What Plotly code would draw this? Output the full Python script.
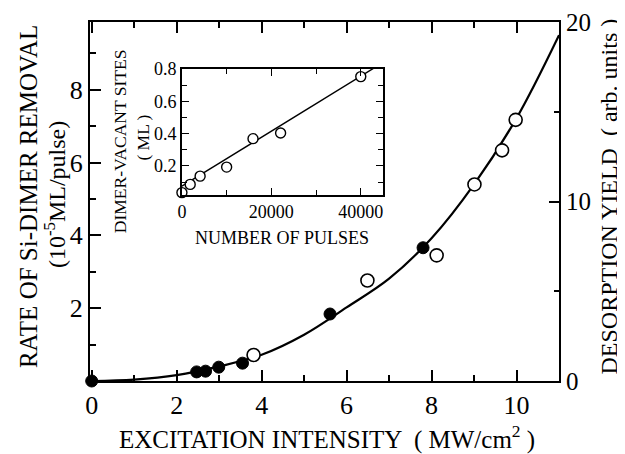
import plotly.graph_objects as go

# ---------------- data ----------------
# main panel: rate of Si-dimer removal (filled, left axis)
filled_x = [0.0, 2.47, 2.68, 2.99, 3.55, 5.61, 7.80]
filled_y = [0.0, 0.25, 0.27, 0.38, 0.49, 1.84, 3.66]

# main panel: desorption yield (open, right axis)
open_x = [3.81, 6.49, 8.12, 9.01, 9.66, 9.98]
open_y2 = [1.45, 5.6, 7.0, 10.95, 12.85, 14.55]

# fitted curve (left axis units)
curve_x = [0, 1, 2, 3, 4, 5, 6, 7, 8, 9, 10, 11]
curve_y = [0, 0.04, 0.16, 0.40, 0.72, 1.27, 2.02, 2.81, 3.92, 5.40, 7.22, 9.50]

# inset: dimer-vacant sites vs number of pulses
inset_x = [0, 1850, 4070, 10000, 15900, 22070, 40000]
inset_y = [0.035, 0.086, 0.137, 0.193, 0.369, 0.404, 0.753]
inset_line_x = [0, 45000]
inset_line_y = [0.075, 0.841]

x_ticks = [0, 2, 4, 6, 8, 10]
y_ticks = [2, 4, 6, 8]
y2_ticks = [0, 10, 20]
inset_x_ticks = [0, 20000, 40000]
inset_x_labels = ["0", "20000", "40000"]
inset_y_ticks = [0.2, 0.4, 0.6, 0.8]
inset_y_labels = ["0.2", "0.4", "0.6", "0.8"]

FONT = "Liberation Serif"
BLACK = "black"

fig = go.Figure()

fig.add_trace(go.Scatter(x=curve_x, y=curve_y, mode="lines",
                         line=dict(color=BLACK, width=2.2, shape="spline"),
                         xaxis="x", yaxis="y", showlegend=False, hoverinfo="skip"))
fig.add_trace(go.Scatter(x=filled_x, y=filled_y, mode="markers",
                         marker=dict(color=BLACK, size=12, line=dict(color=BLACK, width=1)),
                         xaxis="x", yaxis="y", showlegend=False, cliponaxis=False))
fig.add_trace(go.Scatter(x=open_x, y=open_y2, mode="markers",
                         marker=dict(color="white", size=13, line=dict(color=BLACK, width=1.6)),
                         xaxis="x", yaxis="y2", showlegend=False, cliponaxis=False))

fig.add_trace(go.Scatter(x=inset_line_x, y=inset_line_y, mode="lines",
                         line=dict(color=BLACK, width=1.4),
                         xaxis="x3", yaxis="y3", showlegend=False, hoverinfo="skip"))
fig.add_trace(go.Scatter(x=inset_x, y=inset_y, mode="markers",
                         marker=dict(color="white", size=10, line=dict(color=BLACK, width=1.4)),
                         xaxis="x3", yaxis="y3", showlegend=False, cliponaxis=False))

axis_common = dict(showgrid=False, zeroline=False, showline=True, linecolor=BLACK,
                   ticks="inside", tickcolor=BLACK, automargin=False)

# the page body adds an 8px offset, so the plot area is shifted up/left by 8px
PLOT_H = 359
fig.update_layout(
    template="none",
    width=625, height=454,
    margin=dict(l=82, r=74, t=14, b=81, pad=0),
    paper_bgcolor="white", plot_bgcolor="white",
    font=dict(family=FONT, color=BLACK),
    showlegend=False,
    xaxis=dict(**axis_common, domain=[0, 1], range=[-0.04, 11], linewidth=2,
               tickvals=x_ticks, ticklen=11, tickwidth=1.5, mirror="ticks",
               minor=dict(dtick=1, tick0=0, ticklen=6, ticks="inside", tickcolor=BLACK, tickwidth=1.5),
               tickfont=dict(size=26)),
    yaxis=dict(**axis_common, range=[0, 9.86], linewidth=2,
               tickvals=y_ticks, ticklen=11, tickwidth=1.5,
               minor=dict(dtick=1, tick0=0, ticklen=6, ticks="inside", tickcolor=BLACK, tickwidth=1.5),
               tickfont=dict(size=26)),
    yaxis2=dict(**axis_common, overlaying="y", side="right", anchor="x", range=[0, 20],
                linewidth=2, tickvals=y2_ticks, ticklen=10, tickwidth=1.5,
                minor=dict(dtick=5, tick0=0, ticklen=5, ticks="inside", tickcolor=BLACK, tickwidth=1.5),
                tickfont=dict(size=25)),
    xaxis3=dict(**axis_common, domain=[0.196, 0.625], anchor="y3", range=[0, 45000],
                linewidth=1.5, mirror="ticks", tickvals=inset_x_ticks, ticktext=inset_x_labels,
                ticklen=7, tickwidth=1.2,
                minor=dict(dtick=10000, tick0=0, ticklen=5, ticks="inside", tickcolor=BLACK, tickwidth=1.2),
                tickfont=dict(size=18)),
    yaxis3=dict(**axis_common, domain=[0.518, 0.869], anchor="x3", range=[0.02, 0.8],
                linewidth=1.5, mirror="ticks", tickvals=inset_y_ticks, ticktext=inset_y_labels,
                ticklen=7, tickwidth=1.2,
                minor=dict(dtick=0.1, tick0=0, ticklen=5, ticks="inside", tickcolor=BLACK, tickwidth=1.2),
                tickfont=dict(size=18)),
    annotations=[
        dict(text="EXCITATION INTENSITY  ( MW/cm<sup>2</sup> )", xref="paper", yref="paper",
             x=0.506, y=(381 - 437) / PLOT_H, xanchor="center", yanchor="middle", showarrow=False,
             font=dict(size=25)),
        dict(text="RATE OF Si-DIMER REMOVAL", xref="paper", yref="paper",
             x=-0.132, y=0.5125, xanchor="center", yanchor="middle", showarrow=False,
             textangle=-90, font=dict(size=25)),
        dict(text="(10<sup>-5</sup>ML/pulse)", xref="paper", yref="paper",
             x=-0.0746, y=0.518, xanchor="center", yanchor="middle", showarrow=False,
             textangle=-90, font=dict(size=24)),
        dict(text="DESORPTION YIELD  ( arb. units )", xref="paper", yref="paper",
             x=(609 - 90) / 469, y=0.514, xanchor="center", yanchor="middle", showarrow=False,
             textangle=-90, font=dict(size=24)),
        dict(text="DIMER-VACANT SITES", xref="paper", yref="paper",
             x=0.064, y=0.668, xanchor="center", yanchor="middle", showarrow=False,
             textangle=-90, font=dict(size=17.5)),
        dict(text="( ML )", xref="paper", yref="paper",
             x=0.113, y=0.678, xanchor="center", yanchor="middle", showarrow=False,
             textangle=-90, font=dict(size=17.5)),
        dict(text="NUMBER OF PULSES", xref="paper", yref="paper",
             x=0.41, y=(381 - 238) / PLOT_H, xanchor="center", yanchor="middle", showarrow=False,
             font=dict(size=18)),
    ],
)

fig.write_html("out.html")
